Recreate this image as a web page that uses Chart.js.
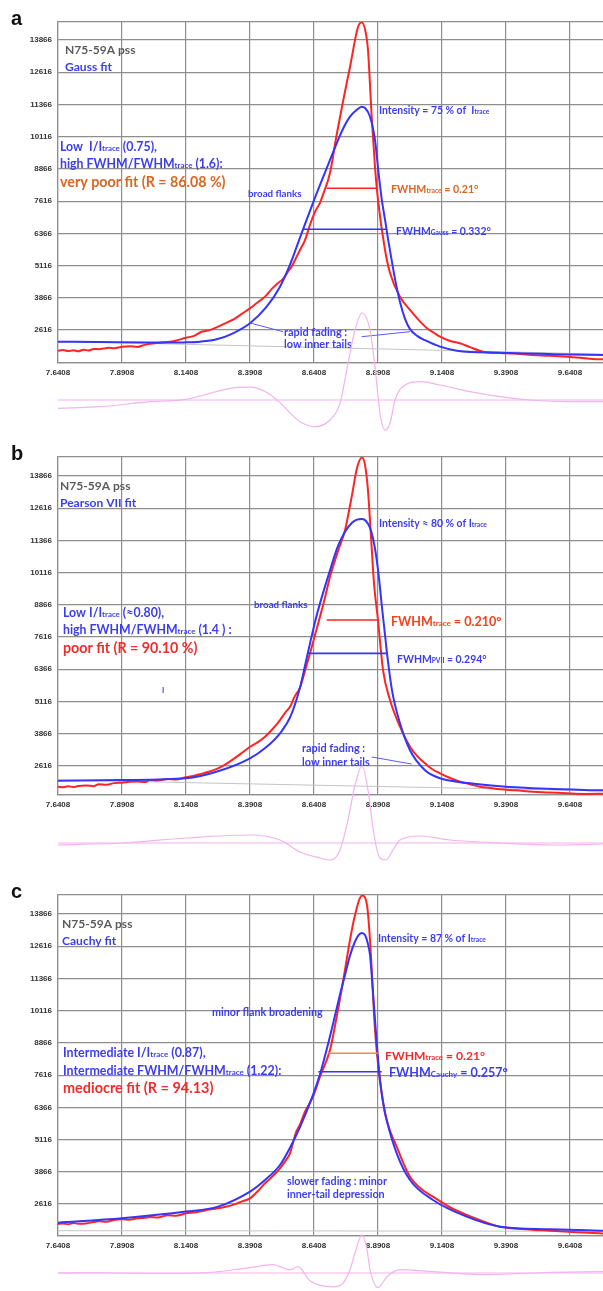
<!DOCTYPE html>
<html>
<head>
<meta charset="utf-8">
<script src="https://cdn.jsdelivr.net/npm/chart.js@4.4.0/dist/chart.umd.min.js"></script>
<style>
  html, body { margin: 0; padding: 0; background: #fff; overflow: hidden; }
  #page { position: relative; width: 603px; height: 1291px; overflow: hidden; }
  .box { position: absolute; left: 0; width: 603px; }
  .resid { pointer-events: none; }
</style>
</head>
<body>
<div id="page">
  <div class="box" style="top:0;height:385px"><canvas id="mainA"></canvas></div>
  <div class="box resid" style="top:290px;height:150px"><canvas id="residA"></canvas></div>
  <div class="box" style="top:435px;height:382px"><canvas id="mainB"></canvas></div>
  <div class="box resid" style="top:733px;height:150px"><canvas id="residB"></canvas></div>
  <div class="box" style="top:873px;height:385px"><canvas id="mainC"></canvas></div>
  <div class="box resid" style="top:1163px;height:150px"><canvas id="residC"></canvas></div>
</div>
<script>
// axis ticks (2-theta in degrees, intensity in counts)
var xTicks = [7.6408, 7.8908, 8.1408, 8.3908, 8.6408, 8.8908, 9.1408, 9.3908, 9.6408];
var yTicks = [2616, 3866, 5116, 6366, 7616, 8866, 10116, 11366, 12616, 13866];
var xMin = 7.6408, xMax = 9.7697;

// panel a : measured trace and Gauss fit
var aTrace = [[7.6408,1814],[7.66,1840],[7.68,1800],[7.70,1830],[7.72,1790],[7.74,1850],[7.76,1820],[7.78,1880],[7.80,1870],[7.82,1900],[7.84,1930],[7.86,1910],[7.8908,1965],[7.92,1990],[7.95,1960],[7.98,2040],[8.01,2093],[8.04,2120],[8.07,2150],[8.10,2200],[8.1408,2318],[8.17,2380],[8.20,2539],[8.23,2600],[8.2658,2745],[8.30,2900],[8.33,3050],[8.36,3250],[8.3908,3457],[8.42,3680],[8.4494,3910],[8.475,4200],[8.5002,4440],[8.52,4600],[8.5392,4879],[8.555,5100],[8.5705,5410],[8.5861,5720],[8.6056,6100],[8.6252,6700],[8.6447,7200],[8.6642,7550],[8.6772,7900],[8.7033,8707],[8.7295,10200],[8.7553,11539],[8.7814,12818],[8.8127,14370],[8.8272,14550],[8.8439,14100],[8.8517,13478],[8.8662,10880],[8.8791,8940],[8.8908,7660],[8.9182,5720],[8.9377,4828],[8.9767,3909],[9.0158,3393],[9.05,3000],[9.081,2694],[9.11,2500],[9.133,2357],[9.17,2200],[9.2111,2100],[9.25,1950],[9.301,1775],[9.3673,1724],[9.42,1700],[9.4963,1647],[9.56,1620],[9.6291,1581],[9.68,1540],[9.7307,1492],[9.7697,1480]];
var aGauss = [[7.6408,2163],[7.80,2150],[8.00,2135],[8.0654,2128],[8.13,2135],[8.1955,2163],[8.2607,2256],[8.3244,2489],[8.3908,2877],[8.456,3521],[8.508,4297],[8.5471,5150],[8.5861,6200],[8.6369,7550],[8.6772,8563],[8.7033,9211],[8.7295,9859],[8.7553,10441],[8.7814,10891],[8.8076,11150],[8.8272,11279],[8.84,11228],[8.8596,10891],[8.8791,9987],[8.892,8800],[8.9052,7700],[8.9182,6900],[8.9299,6150],[8.9455,5250],[8.9572,4600],[8.9767,3700],[8.9963,3050],[9.0158,2650],[9.045,2380],[9.0744,2220],[9.133,1970],[9.1994,1814],[9.3673,1730],[9.58,1680],[9.7697,1645]];
var aBase = [[7.6408,2176],[9.7697,1680]];
var aFwhmTrace = [[8.6904,8113],[8.8856,8113]];
var aFwhmFit = [[8.5978,6523],[8.9260,6523]];
var aPointers = [[[8.3908,2888],[8.5197,2551]], [[8.8272,2357],[9.0158,2551]]];
var aResid = [[7.6408,-322],[7.8049,-260],[8.0002,-66],[8.1408,27],[8.2346,260],[8.3127,454],[8.3908,500],[8.4494,330],[8.508,-100],[8.5471,-500],[8.5861,-840],[8.6447,-1035],[8.7033,-776],[8.7424,-128],[8.7736,1424],[8.801,2715],[8.8283,3375],[8.8596,2715],[8.8791,1292],[8.8986,-517],[8.9182,-1164],[8.9377,-904],[8.9572,0],[8.9963,582],[9.0549,711],[9.133,582],[9.2502,323],[9.3673,129],[9.4845,0],[9.6408,-66],[9.7697,-66]];

// panel b : measured trace and Pearson VII fit
var bTrace = [[7.6408,1801],[7.66,1780],[7.68,1820],[7.70,1790],[7.72,1830],[7.75,1850],[7.78,1820],[7.80,1900],[7.83,1880],[7.86,1940],[7.8908,1956],[7.92,1990],[7.95,2000],[7.98,1980],[8.0,2060],[8.03,2040],[8.07,2100],[8.10,2080],[8.1408,2166],[8.17,2220],[8.20,2300],[8.23,2380],[8.2658,2516],[8.30,2700],[8.33,2900],[8.36,3120],[8.3908,3354],[8.42,3520],[8.4494,3742],[8.48,4050],[8.508,4390],[8.53,4700],[8.5471,4906],[8.565,5300],[8.5861,5650],[8.6056,6300],[8.6252,6979],[8.645,7700],[8.6642,8400],[8.6838,9150],[8.7033,9953],[8.7328,10900],[8.7619,11764],[8.7892,13125],[8.8088,14174],[8.8283,14580],[8.84,14300],[8.8517,13300],[8.8635,11500],[8.8752,9700],[8.8908,8272],[8.9104,6331],[8.9377,5167],[8.9767,4130],[9.0158,3354],[9.045,2980],[9.0744,2710],[9.10,2500],[9.133,2322],[9.17,2150],[9.2111,1996],[9.25,1900],[9.2892,1801],[9.33,1750],[9.3673,1700],[9.43,1660],[9.4963,1607],[9.56,1580],[9.6291,1545],[9.70,1520],[9.7697,1530]];
var bPearson = [[7.6408,2034],[7.8908,2060],[8.1408,2127],[8.2658,2400],[8.3908,2903],[8.45,3300],[8.508,3873],[8.55,4550],[8.5861,5650],[8.6056,6500],[8.6252,7367],[8.6447,8200],[8.6642,8920],[8.7033,10200],[8.7328,11100],[8.7619,11700],[8.7892,12050],[8.8088,12170],[8.8283,12193],[8.8439,12120],[8.8596,11850],[8.8713,11450],[8.883,10800],[8.8947,9900],[8.9065,8750],[8.9182,7700],[8.926,6979],[8.9455,5543],[8.9767,4262],[9.0158,3215],[9.0744,2438],[9.133,2127],[9.2502,1933],[9.3673,1817],[9.55,1720],[9.7697,1660]];
var bBase = [[7.6408,2061],[9.7697,1634]];
var bFwhmTrace = [[8.6904,8272],[8.8920,8272]];
var bFwhmFit = [[8.6185,6979],[8.9248,6979]];
var bPointers = [[[8.8662,2954],[9.0224,2682]]];
var bResid = [[7.6408,-78],[7.8908,0],[8.1408,194],[8.3908,310],[8.508,116],[8.5861,-349],[8.6642,-582],[8.7072,-660],[8.7424,-272],[8.7736,892],[8.801,2250],[8.8283,2988],[8.8517,2056],[8.8752,310],[8.8986,-582],[8.922,-660],[8.9494,-272],[8.9767,116],[9.0549,272],[9.172,116],[9.3673,0],[9.6017,-78],[9.7697,-39]];

// panel c : measured trace and Cauchy fit
var cTrace = [[7.6408,1841],[7.66,1860],[7.68,1830],[7.70,1880],[7.72,1850],[7.75,1860],[7.78,1920],[7.80,1950],[7.83,1930],[7.86,2000],[7.8908,2024],[7.92,2010],[7.95,2060],[7.98,2080],[8.0,2110],[8.03,2090],[8.07,2180],[8.10,2160],[8.1408,2256],[8.17,2290],[8.20,2330],[8.23,2400],[8.2658,2450],[8.30,2520],[8.33,2600],[8.36,2720],[8.3908,2838],[8.42,3100],[8.4494,3420],[8.48,3700],[8.508,4002],[8.53,4300],[8.5471,4584],[8.5705,5400],[8.5861,5700],[8.6056,6200],[8.6369,6779],[8.6642,7555],[8.7033,8591],[8.7295,9882],[8.7553,11306],[8.7814,12857],[8.801,13827],[8.8283,14580],[8.8478,14215],[8.8596,12857],[8.8791,9366],[8.892,7943],[8.9182,6135],[8.94,5400],[8.9638,4839],[8.99,4200],[9.0158,3676],[9.06,3200],[9.1056,2900],[9.17,2500],[9.2373,2190],[9.30,1950],[9.3673,1736],[9.45,1650],[9.5627,1581],[9.65,1530],[9.758,1480],[9.7697,1470]];
var cCauchy = [[7.6408,1893],[7.8908,2063],[8.1408,2321],[8.2658,2515],[8.3908,3097],[8.4494,3548],[8.508,4130],[8.5471,4800],[8.5861,5600],[8.6369,6850],[8.6642,7650],[8.69,8600],[8.715,9600],[8.74,10650],[8.7619,11500],[8.7814,12250],[8.801,12800],[8.815,13050],[8.8283,13129],[8.84,13050],[8.8517,12700],[8.8596,12276],[8.8662,11500],[8.8752,10300],[8.8869,8719],[8.8986,7427],[8.9117,6500],[8.9247,5875],[8.9638,4583],[9.0158,3548],[9.1056,2772],[9.2373,2124],[9.3673,1736],[9.5627,1635],[9.758,1581],[9.7697,1578]];
var cBase = [[7.6408,1580],[9.7697,1560]];
var cFwhmTrace = [[8.6966,8463],[8.8920,8463]];
var cFwhmFit = [[8.6576,7749],[8.9053,7749]];
var cResid = [[7.6408,0],[7.80,10],[8.0,-10],[8.1955,0],[8.3908,206],[8.48,322],[8.5471,128],[8.5783,244],[8.6252,-300],[8.715,-535],[8.7553,-380],[8.7814,128],[8.8049,904],[8.8283,1485],[8.8478,904],[8.8596,128],[8.8908,-570],[8.926,-144],[8.9767,128],[9.1056,50],[9.301,-66],[9.4963,0],[9.758,50],[9.7697,50]];

var RED = '#ff2424', BLUE = '#3434fb', ORANGE = '#f58a3c', PINK = '#f4b2ef';
var TBLUE = '#3d3df0', TGRAY = '#5c5c5c', TORANGE = '#dc6420', TRED = '#f42b2b';
var GRID = '#8e8e8e';

var aNotes = [
  {x: 11, y: 25, size: 20, letter: true, color: '#111', parts: ['a']},
  {x: 65, y: 54, size: 12.7, color: TGRAY, parts: ['N75-59A pss']},
  {x: 65, y: 71, size: 12.7, color: TBLUE, parts: ['Gauss fit']},
  {x: 60, y: 151, size: 13, color: TBLUE, parts: ['Low  I/I', ['trace'], ' (0.75),']},
  {x: 60, y: 168, size: 13, color: TBLUE, parts: ['high FWHM/FWHM', ['trace'], ' (1.6):']},
  {x: 60, y: 187, size: 15, color: TORANGE, parts: ['very poor fit (R = 86.08 %)']},
  {x: 248, y: 197, size: 10.3, color: TBLUE, parts: ['broad flanks']},
  {x: 379, y: 114, size: 11, color: TBLUE, parts: ['Intensity = 75 % of  I', ['trace']]},
  {x: 391, y: 193, size: 11.2, color: TORANGE, parts: ['FWHM', ['trace'], ' = 0.21°']},
  {x: 396, y: 235, size: 11, color: TBLUE, parts: ['FWHM', ['Gauss'], ' = 0.332°']},
  {x: 284, y: 336, size: 11.5, color: TBLUE, parts: ['rapid fading :']},
  {x: 284, y: 348, size: 11.5, color: TBLUE, parts: ['low inner tails']}
];
var bNotes = [
  {x: 11, y: 25, size: 20, letter: true, color: '#111', parts: ['b']},
  {x: 60, y: 55, size: 12.7, color: TGRAY, parts: ['N75-59A pss']},
  {x: 60, y: 72, size: 12.7, color: TBLUE, parts: ['Pearson VII fit']},
  {x: 63, y: 182, size: 13, color: TBLUE, parts: ['Low I/I', ['trace'], ' (≈0.80),']},
  {x: 63, y: 199, size: 13, color: TBLUE, parts: ['high FWHM/FWHM', ['trace'], ' (1.4 ) :']},
  {x: 63, y: 218, size: 15, color: TRED, parts: ['poor fit (R = 90.10 %)']},
  {x: 162, y: 258, size: 8, color: TBLUE, parts: ['I']},
  {x: 254, y: 173, size: 10.3, color: TBLUE, parts: ['broad flanks']},
  {x: 379, y: 92, size: 11, color: TBLUE, parts: ['Intensity ≈ 80 % of I', ['trace']]},
  {x: 391, y: 191, size: 13.2, color: '#f4411d', parts: ['FWHM', ['trace'], ' = 0.210°']},
  {x: 397, y: 228, size: 11, color: TBLUE, parts: ['FWHM', ['PVII'], ' = 0.294°']},
  {x: 302, y: 317, size: 11.5, color: TBLUE, parts: ['rapid fading :']},
  {x: 302, y: 331, size: 11.5, color: TBLUE, parts: ['low inner tails']}
];
var cNotes = [
  {x: 11, y: 25, size: 20, letter: true, color: '#111', parts: ['c']},
  {x: 62, y: 55, size: 12.7, color: TGRAY, parts: ['N75-59A pss']},
  {x: 62, y: 72, size: 12.7, color: TBLUE, parts: ['Cauchy fit']},
  {x: 378, y: 69, size: 11, color: TBLUE, parts: ['Intensity = 87 % of I', ['trace']]},
  {x: 212, y: 143, size: 11.3, color: TBLUE, parts: ['minor flank broadening']},
  {x: 63, y: 184, size: 13.1, color: TBLUE, parts: ['Intermediate I/I', ['trace'], ' (0.87),']},
  {x: 63, y: 202, size: 13.1, color: TBLUE, parts: ['Intermediate FWHM/FWHM', ['trace'], ' (1.22):']},
  {x: 63, y: 220, size: 15.2, color: TRED, parts: ['mediocre fit (R = 94.13)']},
  {x: 385, y: 187, size: 12.8, color: TRED, parts: ['FWHM', ['trace'], ' = 0.21°']},
  {x: 389, y: 204, size: 13.2, color: TBLUE, parts: ['FWHM', ['Cauchy'], ' = 0.257°']},
  {x: 287, y: 312, size: 11.3, color: TBLUE, parts: ['slower fading : minor']},
  {x: 287, y: 325, size: 11.3, color: TBLUE, parts: ['inner-tail depression']}
];

function pts(list) {
  return list.map(function(p) { return {x: p[0], y: p[1]}; });
}

function line(list, color, width, order, smooth) {
  return {
    data: pts(list),
    borderColor: color,
    borderWidth: width,
    pointRadius: 0,
    fill: false,
    order: order,
    tension: 0,
    cubicInterpolationMode: smooth ? 'monotone' : 'default'
  };
}

function notesPlugin(notes) {
  return {
    id: 'notes',
    afterDraw: function(chart) {
      var ctx = chart.ctx;
      ctx.save();
      ctx.textBaseline = 'alphabetic';
      ctx.textAlign = 'left';
      notes.forEach(function(n) {
        var cx = n.x;
        ctx.fillStyle = n.color;
        n.parts.forEach(function(p) {
          var small = Array.isArray(p);
          var t = small ? p[0] : p;
          var sz = small ? n.size * 0.64 : n.size;
          if (n.letter) ctx.font = 'bold ' + sz + 'px "Liberation Sans", Arial, sans-serif';
          else ctx.font = 'bold ' + (sz * 0.95) + 'px Lato, "Open Sans", sans-serif';
          ctx.fillText(t, cx, n.y);
          cx += ctx.measureText(t).width;
        });
      });
      ctx.restore();
    }
  };
}

var tickFont = {family: '"Liberation Sans", Arial, sans-serif', size: 8, weight: 'bold'};

function mainChart(id, p) {
  var sets = [
    line(p.base, '#c4c4c4', 1, 6, false),
    line(p.trace, RED, 2, 4, true),
    line(p.fit, BLUE, 2, 3, true),
    line(p.fwhmTrace, p.fwhmColor, 1.6, 1, false),
    line(p.fwhmFit, BLUE, 1.6, 1, false)
  ];
  (p.pointers || []).forEach(function(pl) { sets.push(line(pl, '#5a5af5', 1, 2, false)); });

  return new Chart(document.getElementById(id), {
    type: 'line',
    data: {datasets: sets},
    options: {
      responsive: true,
      maintainAspectRatio: false,
      animation: false,
      layout: {padding: {top: 22, left: 0, right: 0, bottom: 0}},
      plugins: {legend: {display: false}, tooltip: {enabled: false}},
      scales: {
        x: {
          type: 'linear', min: xMin, max: xMax,
          afterBuildTicks: function(s) { s.ticks = xTicks.map(function(v) { return {value: v}; }); },
          afterFit: function(s) { s.height = 22; },
          ticks: {callback: function(v) { return v.toFixed(4); }, font: tickFont, color: '#333', padding: 5, maxRotation: 0, autoSkip: false},
          grid: {color: GRID, lineWidth: 1.2, drawTicks: false},
          border: {color: GRID, width: 1.2}
        },
        y: {
          min: p.yMin, max: p.yMax,
          afterBuildTicks: function(s) {
            s.ticks = [p.yMin].concat(yTicks, [p.yMax]).map(function(v) { return {value: v}; });
          },
          afterFit: function(s) { s.width = 58; },
          ticks: {callback: function(v) { return yTicks.indexOf(v) >= 0 ? String(v) : ''; }, font: tickFont, color: '#333', padding: 6, autoSkip: false},
          grid: {color: GRID, lineWidth: 1.2, drawTicks: false},
          border: {color: GRID, width: 1.2}
        }
      }
    },
    plugins: [notesPlugin(p.notes)]
  });
}

function residChart(id, resid) {
  return new Chart(document.getElementById(id), {
    type: 'line',
    data: {datasets: [
      line([[xMin, 0], [xMax, 0]], PINK, 1, 2, false),
      line(resid, PINK, 1.2, 1, true)
    ]},
    options: {
      responsive: true,
      maintainAspectRatio: false,
      animation: false,
      layout: {padding: {top: 0, left: 58, right: 0, bottom: 0}},
      plugins: {legend: {display: false}, tooltip: {enabled: false}},
      scales: {
        x: {type: 'linear', min: xMin, max: xMax, display: false},
        y: {min: -1552, max: 4268, display: false}
      }
    }
  });
}

mainChart('mainA', {yMin: 1336, yMax: 14564, trace: aTrace, fit: aGauss, base: aBase, fwhmTrace: aFwhmTrace, fwhmFit: aFwhmFit, fwhmColor: RED, pointers: aPointers, notes: aNotes});
mainChart('mainB', {yMin: 1479, yMax: 14604, trace: bTrace, fit: bPearson, base: bBase, fwhmTrace: bFwhmTrace, fwhmFit: bFwhmFit, fwhmColor: RED, pointers: bPointers, notes: bNotes});
mainChart('mainC', {yMin: 1375, yMax: 14603, trace: cTrace, fit: cCauchy, base: cBase, fwhmTrace: cFwhmTrace, fwhmFit: cFwhmFit, fwhmColor: ORANGE, pointers: [], notes: cNotes});
residChart('residA', aResid);
residChart('residB', bResid);
residChart('residC', cResid);
</script>
</body>
</html>
